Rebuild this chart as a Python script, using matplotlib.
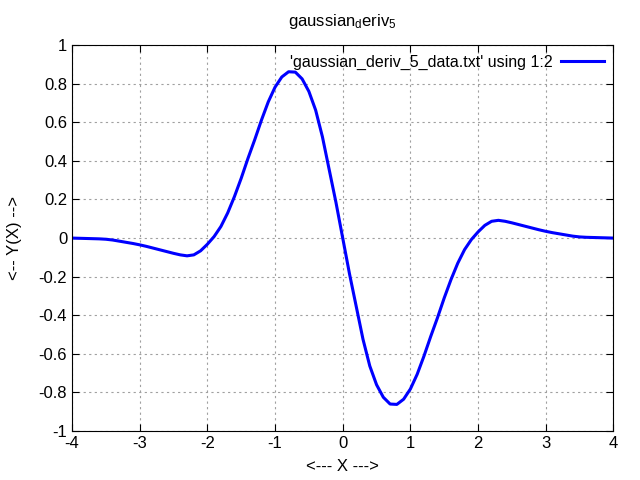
import matplotlib
matplotlib.use("Agg")
import matplotlib.pyplot as plt
from matplotlib.ticker import FuncFormatter, MultipleLocator

plt.rcParams["font.family"] = ["Liberation Sans", "DejaVu Sans"]
plt.rcParams["mathtext.fontset"] = "custom"
plt.rcParams["mathtext.rm"] = "Liberation Sans"
plt.rcParams["mathtext.it"] = "Liberation Sans"

# values
x = [-4.0, -3.9, -3.8, -3.7, -3.6, -3.5, -3.4, -3.3, -3.2, -3.1,
     -3.0, -2.9, -2.8, -2.7, -2.6, -2.5, -2.4, -2.3, -2.2, -2.1,
     -2.0, -1.9, -1.8, -1.7, -1.6, -1.5, -1.4, -1.3, -1.2, -1.1,
     -1.0, -0.9, -0.8, -0.7, -0.6, -0.5, -0.4, -0.3, -0.2, -0.1,
     0.0, 0.1, 0.2, 0.3, 0.4, 0.5, 0.6, 0.7, 0.8, 0.9,
     1.0, 1.1, 1.2, 1.3, 1.4, 1.5, 1.6, 1.7, 1.8, 1.9,
     2.0, 2.1, 2.2, 2.3, 2.4, 2.5, 2.6, 2.7, 2.8, 2.9,
     3.0, 3.1, 3.2, 3.3, 3.4, 3.5, 3.6, 3.7, 3.8, 3.9, 4.0]
y = [0.0, -0.001, -0.002, -0.003, -0.004, -0.006, -0.010, -0.016, -0.022, -0.028,
     -0.035, -0.043, -0.052, -0.061, -0.070, -0.079, -0.087, -0.092, -0.087, -0.066,
     -0.032, 0.008, 0.060, 0.130, 0.215, 0.310, 0.413, 0.510, 0.612, 0.706,
     0.782, 0.835, 0.862, 0.860, 0.825, 0.760, 0.663, 0.525, 0.355, 0.185,
     0.0, -0.185, -0.355, -0.525, -0.663, -0.760, -0.825, -0.860, -0.862, -0.835,
     -0.782, -0.706, -0.612, -0.510, -0.413, -0.310, -0.215, -0.130, -0.060, -0.008,
     0.032, 0.066, 0.087, 0.092, 0.087, 0.079, 0.070, 0.061, 0.052, 0.043,
     0.035, 0.028, 0.022, 0.016, 0.010, 0.006, 0.004, 0.003, 0.002, 0.001, 0.0]

fig = plt.figure(figsize=(6.4, 4.8), dpi=100)
ax = fig.add_axes([0.1125, 0.102, 0.846, 0.804])

ax.plot(x, y, color="#0000ff", linewidth=2.2,
        label="'gaussian_deriv_5_data.txt' using 1:2")

ax.set_xlim(-4, 4)
ax.set_ylim(-1, 1)
ax.xaxis.set_major_locator(MultipleLocator(1))
ax.yaxis.set_major_locator(MultipleLocator(0.2))
fmt = FuncFormatter(lambda v, p: "%g" % round(v, 6) if abs(v) > 1e-9 else "0")
ax.xaxis.set_major_formatter(fmt)
ax.yaxis.set_major_formatter(fmt)
ax.tick_params(direction="in", top=True, right=True, labelsize=12, length=5)
ax.grid(True, color="#a0a0a0", linestyle=(0, (2, 3)), linewidth=0.8)

ax.set_title("gaussian$_d$eriv$_5$", fontsize=12, pad=14)
ax.set_xlabel("<--- X --->", fontsize=12, labelpad=6)
ax.set_ylabel("<-- Y(X) -->", fontsize=12, labelpad=12)

ax.legend(loc="upper right", markerfirst=False, frameon=False, fontsize=11.5,
          handlelength=2.7, borderaxespad=0.4, borderpad=0.2, handletextpad=0.5)

fig.savefig("out.png", dpi=100)
